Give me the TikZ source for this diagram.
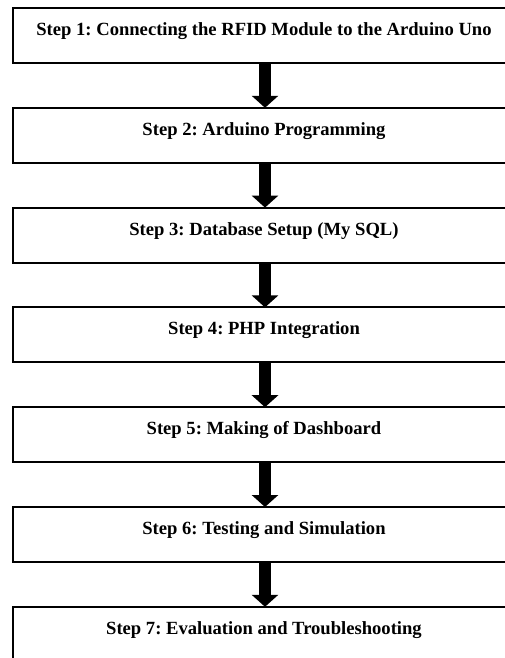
\documentclass[tikz,border=0pt]{standalone}
\usepackage{fontspec}
\setmainfont{Liberation Serif}
\usetikzlibrary{arrows.meta}
\begin{document}
\frenchspacing
\begin{tikzpicture}[x=1pt,y=-1pt,
  stepbox/.style={draw=black, line width=2pt, fill=white, rectangle, inner sep=0pt, outer sep=0pt,
    minimum width=504pt, minimum height=55pt, anchor=north west},
  steptext/.style={font=\fontsize{18.6}{20}\selectfont\bfseries, anchor=base, inner sep=0pt},
  bigarrow/.style={line width=12.5pt, -{Triangle[width=26pt,length=12pt]}}]
\useasboundingbox (0,0) rectangle (505,658);
\foreach \i/\t in {1/{Step 1: Connecting the RFID Module to the Arduino Uno},
                   2/{Step 2: Arduino Programming},
                   3/{Step 3: Database Setup (My SQL)},
                   4/{Step 4: PHP Integration},
                   5/{Step 5: Making of Dashboard},
                   6/{Step 6: Testing and Simulation},
                   7/{Step 7: Evaluation and Troubleshooting}}{
  \node[stepbox] (b\i) at (13, {8+99.8*(\i-1)}) {};
  \node[steptext] (t\i) at (264, {8+99.8*(\i-1)+27.5}) {\t};
}
\foreach \i [evaluate=\i as \j using int(\i+1)] in {1,...,6}{
  \draw[bigarrow] (b\i.south) -- (b\j.north);
}
\end{tikzpicture}
\end{document}
